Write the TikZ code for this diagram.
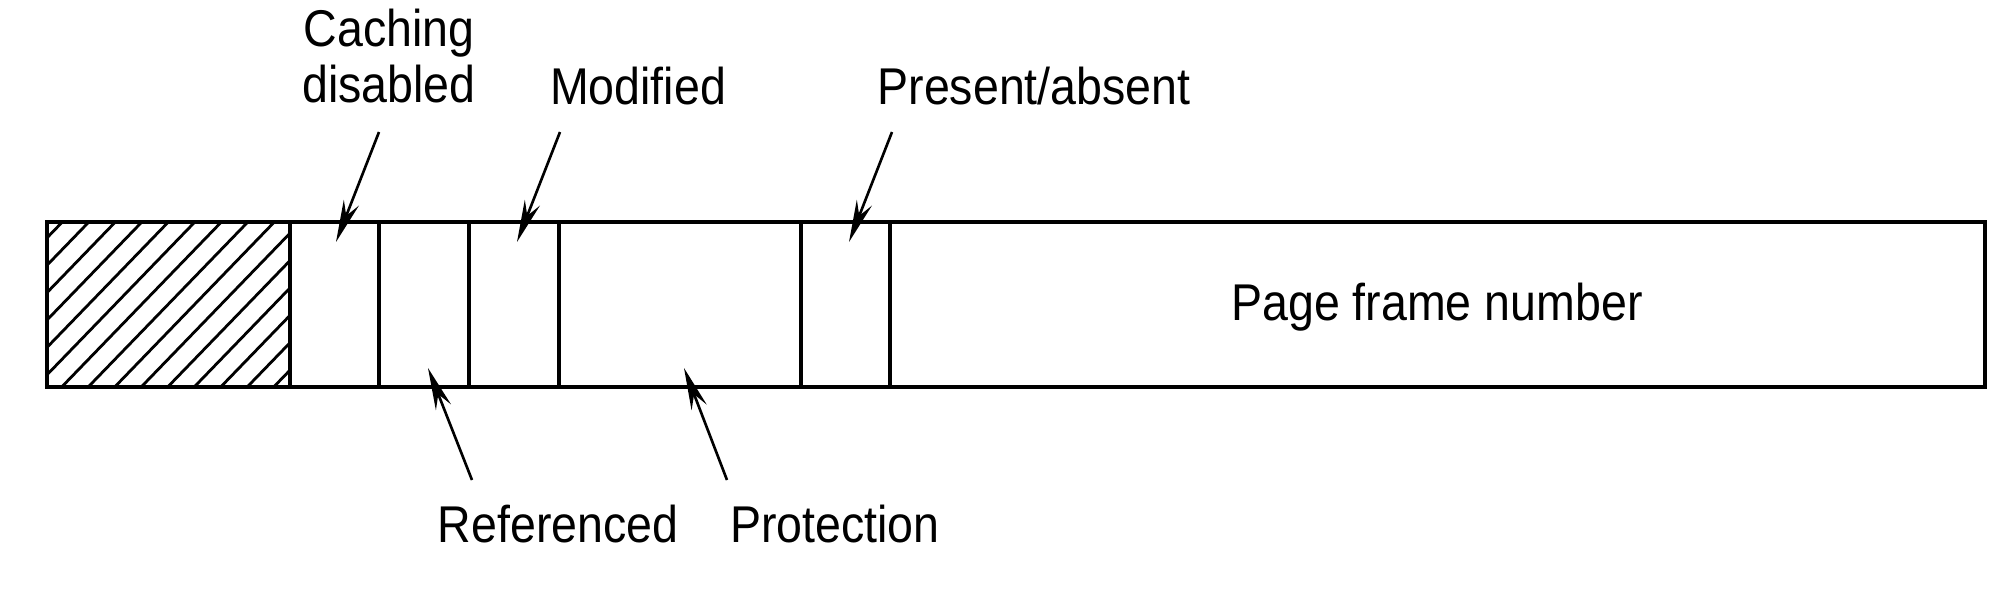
\documentclass[tikz,border=0pt]{standalone}
\usepackage{fontspec}
\setmainfont{Liberation Sans}
\newfontfamily\lblfont[FakeStretch=0.9]{Liberation Sans}
\usetikzlibrary{arrows.meta}
\begin{document}
\begin{tikzpicture}[x=0.01cm,y=-0.01cm,
  lbl/.style={font=\lblfont\fontsize{14.7}{15.9}\selectfont, inner sep=0pt},
  frame/.style={line width=1.1pt},
  divider/.style={line width=1.0pt},
  hatch/.style={line width=0.8pt},
  pointer/.style={line width=0.75pt, -{Stealth[length=12pt,width=4.6pt,inset=4pt]}}
]
\useasboundingbox (0,0) rectangle (2000,605);

% hatched reserved field
\begin{scope}
  \clip (47,222) rectangle (290,387);
  \foreach \k in {0,...,16} {
    \pgfmathsetmacro{\xt}{62+26.5*\k}
    \draw[hatch] ({\xt+10},212) -- ({\xt-169},397);
  }
\end{scope}

% outline and field dividers
\draw[frame] (47,222) rectangle (1985,387);
\foreach \xx in {290,379,469,559,801,890}
  \draw[divider] (\xx,222) -- (\xx,387);

% labels
\node[lbl, align=center] (cd) at (389,56) {Caching\\disabled};
\node[lbl, anchor=base] (mod) at (638,104) {Modified};
\node[lbl, anchor=base] (pa) at (1034,104) {Present/absent};
\node[lbl, anchor=base] (ref) at (558,542) {Referenced};
\node[lbl, anchor=base] (prot) at (835,542) {Protection};
\node[lbl, anchor=base] (pfn) at (1437,320) {Page frame number};

% arrow end points
\coordinate (cdtail) at (379,132);
\coordinate (cdtip) at (336,242);
\coordinate (modtail) at (560,132);
\coordinate (modtip) at (517,242);
\coordinate (patail) at (892,132);
\coordinate (patip) at (849,242);
\coordinate (reftail) at (472,480);
\coordinate (reftip) at (428,368);
\coordinate (prottail) at (727,480);
\coordinate (prottip) at (684,368);

\draw[pointer] (cdtail) -- (cdtip);
\draw[pointer] (modtail) -- (modtip);
\draw[pointer] (patail) -- (patip);
\draw[pointer] (reftail) -- (reftip);
\draw[pointer] (prottail) -- (prottip);
\end{tikzpicture}
\end{document}
